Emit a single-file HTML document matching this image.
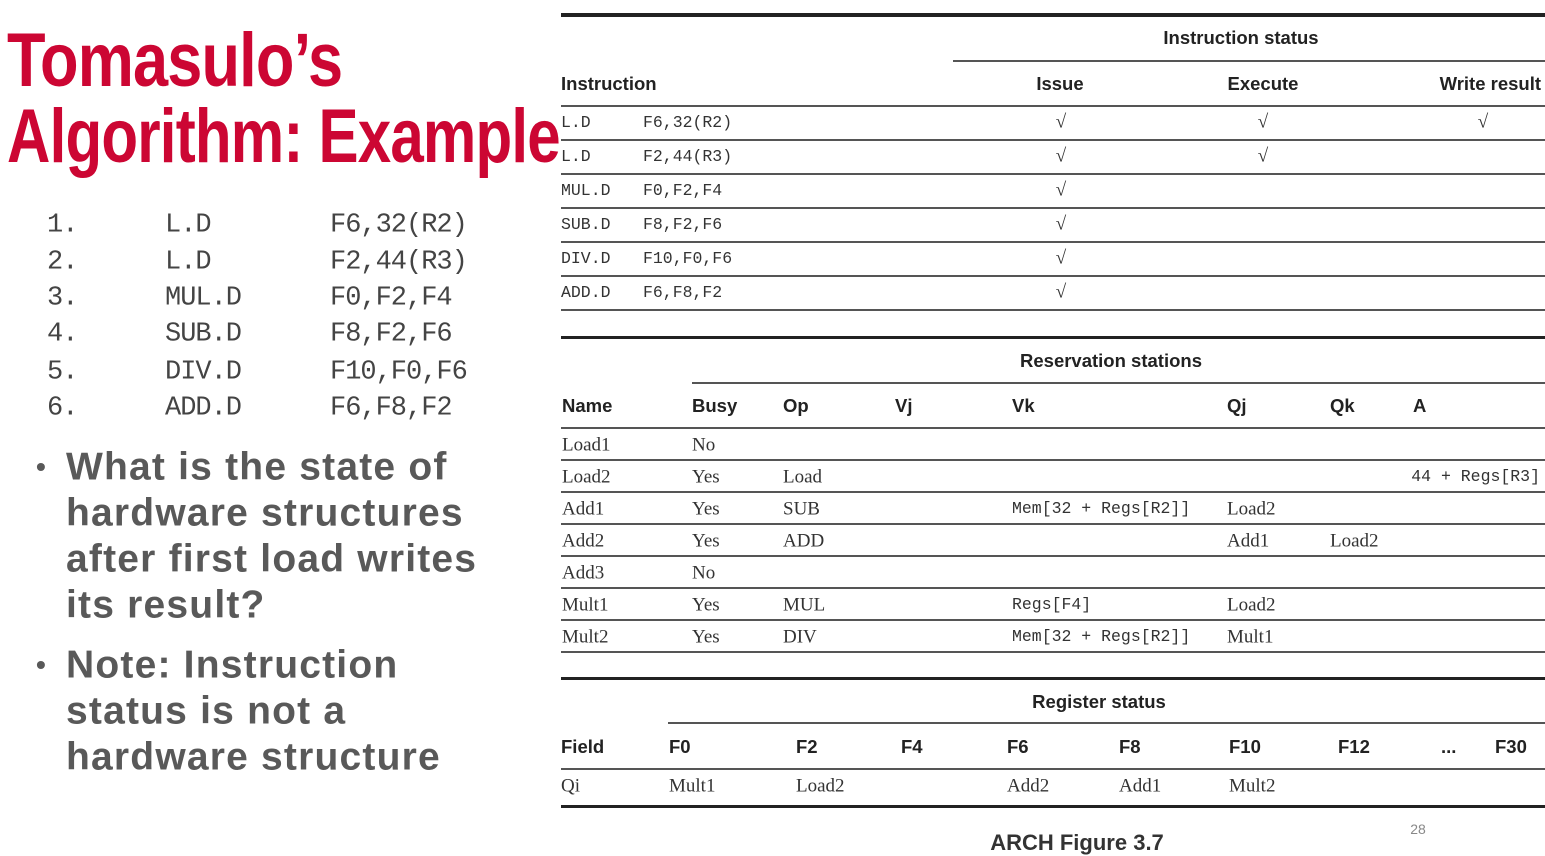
<!DOCTYPE html>
<html><head><meta charset="utf-8"><style>
body{margin:0;width:1545px;height:856px;background:#fff;position:relative;overflow:hidden;font-family:"Liberation Sans",sans-serif}
.a{position:absolute;white-space:nowrap;line-height:1;transform:translateY(-50%)}
.c{transform:translate(-50%,-50%)}
.l{position:absolute;background:#555;height:2px}
.k{position:absolute;background:#222;height:3px}
.h{font-family:"Liberation Sans",sans-serif;font-weight:bold;font-size:18.5px;color:#222}
.m{font-family:"Liberation Mono",monospace;font-size:16.5px;color:#333}
.s{font-family:"Liberation Serif",serif;font-size:19px;color:#333}
.n{font-family:"Liberation Mono",monospace;font-size:27px;color:#444;letter-spacing:-1px}
.b{font-weight:bold;font-size:39px;color:#595959;letter-spacing:1.2px}
.t{position:absolute;font-family:"Liberation Sans",sans-serif;font-weight:bold;color:#cc0633;font-size:76px;line-height:1;transform-origin:0 0;letter-spacing:-1px}
</style></head><body>
<div class="t" style="left:7px;top:23px;transform:scaleX(0.83)">Tomasulo’s</div>
<div class="t" style="left:7px;top:99px;transform:scaleX(0.79)">Algorithm: Example</div>

<div class="a n" style="left:47px;top:226px">1.</div><div class="a n" style="left:165px;top:226px">L.D</div><div class="a n" style="left:330px;top:226px">F6,32(R2)</div>
<div class="a n" style="left:47px;top:263px">2.</div><div class="a n" style="left:165px;top:263px">L.D</div><div class="a n" style="left:330px;top:263px">F2,44(R3)</div>
<div class="a n" style="left:47px;top:299px">3.</div><div class="a n" style="left:165px;top:299px">MUL.D</div><div class="a n" style="left:330px;top:299px">F0,F2,F4</div>
<div class="a n" style="left:47px;top:335px">4.</div><div class="a n" style="left:165px;top:335px">SUB.D</div><div class="a n" style="left:330px;top:335px">F8,F2,F6</div>
<div class="a n" style="left:47px;top:373px">5.</div><div class="a n" style="left:165px;top:373px">DIV.D</div><div class="a n" style="left:330px;top:373px">F10,F0,F6</div>
<div class="a n" style="left:47px;top:409px">6.</div><div class="a n" style="left:165px;top:409px">ADD.D</div><div class="a n" style="left:330px;top:409px">F6,F8,F2</div>

<div class="a b" style="left:36px;top:467px;font-size:28px">•</div>
<div class="a b" style="left:66px;top:467px">What is the state of</div>
<div class="a b" style="left:66px;top:513px">hardware structures</div>
<div class="a b" style="left:66px;top:559px">after first load writes</div>
<div class="a b" style="left:66px;top:605px">its result?</div>
<div class="a b" style="left:36px;top:665px;font-size:28px">•</div>
<div class="a b" style="left:66px;top:665px">Note: Instruction</div>
<div class="a b" style="left:66px;top:711px">status is not a</div>
<div class="a b" style="left:66px;top:757px">hardware structure</div>

<!-- Instruction status -->
<div class="k" style="left:561px;top:13px;width:984px;height:4px"></div>
<div class="a h c" style="left:1241px;top:38px">Instruction status</div>
<div class="l" style="left:953px;top:60px;width:592px"></div>
<div class="a h" style="left:561px;top:84px">Instruction</div>
<div class="a h c" style="left:1060px;top:84px">Issue</div>
<div class="a h c" style="left:1263px;top:84px">Execute</div>
<div class="a h" style="right:4px;top:84px">Write result</div>
<div class="l" style="left:561px;top:105px;width:984px"></div>
<div class="a m" style="left:561px;top:123px">L.D</div><div class="a m" style="left:643px;top:123px">F6,32(R2)</div>
<div class="a m" style="left:561px;top:157px">L.D</div><div class="a m" style="left:643px;top:157px">F2,44(R3)</div>
<div class="a m" style="left:561px;top:191px">MUL.D</div><div class="a m" style="left:643px;top:191px">F0,F2,F4</div>
<div class="a m" style="left:561px;top:225px">SUB.D</div><div class="a m" style="left:643px;top:225px">F8,F2,F6</div>
<div class="a m" style="left:561px;top:259px">DIV.D</div><div class="a m" style="left:643px;top:259px">F10,F0,F6</div>
<div class="a m" style="left:561px;top:293px">ADD.D</div><div class="a m" style="left:643px;top:293px">F6,F8,F2</div>
<div class="a s c" style="left:1061px;top:122px">√</div><div class="a s c" style="left:1263px;top:122px">√</div><div class="a s c" style="left:1483px;top:122px">√</div>
<div class="a s c" style="left:1061px;top:156px">√</div><div class="a s c" style="left:1263px;top:156px">√</div>
<div class="a s c" style="left:1061px;top:190px">√</div>
<div class="a s c" style="left:1061px;top:224px">√</div>
<div class="a s c" style="left:1061px;top:258px">√</div>
<div class="a s c" style="left:1061px;top:292px">√</div>
<div class="l" style="left:561px;top:139px;width:984px"></div>
<div class="l" style="left:561px;top:173px;width:984px"></div>
<div class="l" style="left:561px;top:207px;width:984px"></div>
<div class="l" style="left:561px;top:241px;width:984px"></div>
<div class="l" style="left:561px;top:275px;width:984px"></div>
<div class="l" style="left:561px;top:309px;width:984px"></div>

<!-- Reservation stations -->
<div class="k" style="left:561px;top:336px;width:984px"></div>
<div class="a h c" style="left:1111px;top:361px">Reservation stations</div>
<div class="l" style="left:692px;top:382px;width:853px"></div>
<div class="a h" style="left:562px;top:406px">Name</div>
<div class="a h" style="left:692px;top:406px">Busy</div>
<div class="a h" style="left:783px;top:406px">Op</div>
<div class="a h" style="left:895px;top:406px">Vj</div>
<div class="a h" style="left:1012px;top:406px">Vk</div>
<div class="a h" style="left:1227px;top:406px">Qj</div>
<div class="a h" style="left:1330px;top:406px">Qk</div>
<div class="a h" style="left:1413px;top:406px">A</div>
<div class="l" style="left:561px;top:427px;width:984px"></div>
<div class="a s" style="left:562px;top:445px">Load1</div><div class="a s" style="left:692px;top:445px">No</div>
<div class="a s" style="left:562px;top:477px">Load2</div><div class="a s" style="left:692px;top:477px">Yes</div><div class="a s" style="left:783px;top:477px">Load</div><div class="a m" style="right:5px;top:477px">44 + Regs[R3]</div>
<div class="a s" style="left:562px;top:509px">Add1</div><div class="a s" style="left:692px;top:509px">Yes</div><div class="a s" style="left:783px;top:509px">SUB</div><div class="a m" style="left:1012px;top:509px">Mem[32 + Regs[R2]]</div><div class="a s" style="left:1227px;top:509px">Load2</div>
<div class="a s" style="left:562px;top:541px">Add2</div><div class="a s" style="left:692px;top:541px">Yes</div><div class="a s" style="left:783px;top:541px">ADD</div><div class="a s" style="left:1227px;top:541px">Add1</div><div class="a s" style="left:1330px;top:541px">Load2</div>
<div class="a s" style="left:562px;top:573px">Add3</div><div class="a s" style="left:692px;top:573px">No</div>
<div class="a s" style="left:562px;top:605px">Mult1</div><div class="a s" style="left:692px;top:605px">Yes</div><div class="a s" style="left:783px;top:605px">MUL</div><div class="a m" style="left:1012px;top:605px">Regs[F4]</div><div class="a s" style="left:1227px;top:605px">Load2</div>
<div class="a s" style="left:562px;top:637px">Mult2</div><div class="a s" style="left:692px;top:637px">Yes</div><div class="a s" style="left:783px;top:637px">DIV</div><div class="a m" style="left:1012px;top:637px">Mem[32 + Regs[R2]]</div><div class="a s" style="left:1227px;top:637px">Mult1</div>
<div class="l" style="left:561px;top:459px;width:984px"></div>
<div class="l" style="left:561px;top:491px;width:984px"></div>
<div class="l" style="left:561px;top:523px;width:984px"></div>
<div class="l" style="left:561px;top:555px;width:984px"></div>
<div class="l" style="left:561px;top:587px;width:984px"></div>
<div class="l" style="left:561px;top:619px;width:984px"></div>
<div class="l" style="left:561px;top:651px;width:984px"></div>

<!-- Register status -->
<div class="k" style="left:561px;top:677px;width:984px"></div>
<div class="a h c" style="left:1099px;top:702px">Register status</div>
<div class="l" style="left:668px;top:722px;width:877px"></div>
<div class="a h" style="left:561px;top:747px">Field</div>
<div class="a h" style="left:669px;top:747px">F0</div>
<div class="a h" style="left:796px;top:747px">F2</div>
<div class="a h" style="left:901px;top:747px">F4</div>
<div class="a h" style="left:1007px;top:747px">F6</div>
<div class="a h" style="left:1119px;top:747px">F8</div>
<div class="a h" style="left:1229px;top:747px">F10</div>
<div class="a h" style="left:1338px;top:747px">F12</div>
<div class="a h" style="left:1441px;top:747px">...</div>
<div class="a h" style="left:1495px;top:747px">F30</div>
<div class="l" style="left:561px;top:768px;width:984px"></div>
<div class="a s" style="left:561px;top:786px">Qi</div>
<div class="a s" style="left:669px;top:786px">Mult1</div>
<div class="a s" style="left:796px;top:786px">Load2</div>
<div class="a s" style="left:1007px;top:786px">Add2</div>
<div class="a s" style="left:1119px;top:786px">Add1</div>
<div class="a s" style="left:1229px;top:786px">Mult2</div>
<div class="k" style="left:561px;top:805px;width:984px"></div>

<div class="a c" style="left:1077px;top:843px;font-weight:bold;font-size:22px;color:#333">ARCH Figure 3.7</div>
<div class="a c" style="left:1418px;top:829px;font-size:14px;color:#888">28</div>
</body></html>
